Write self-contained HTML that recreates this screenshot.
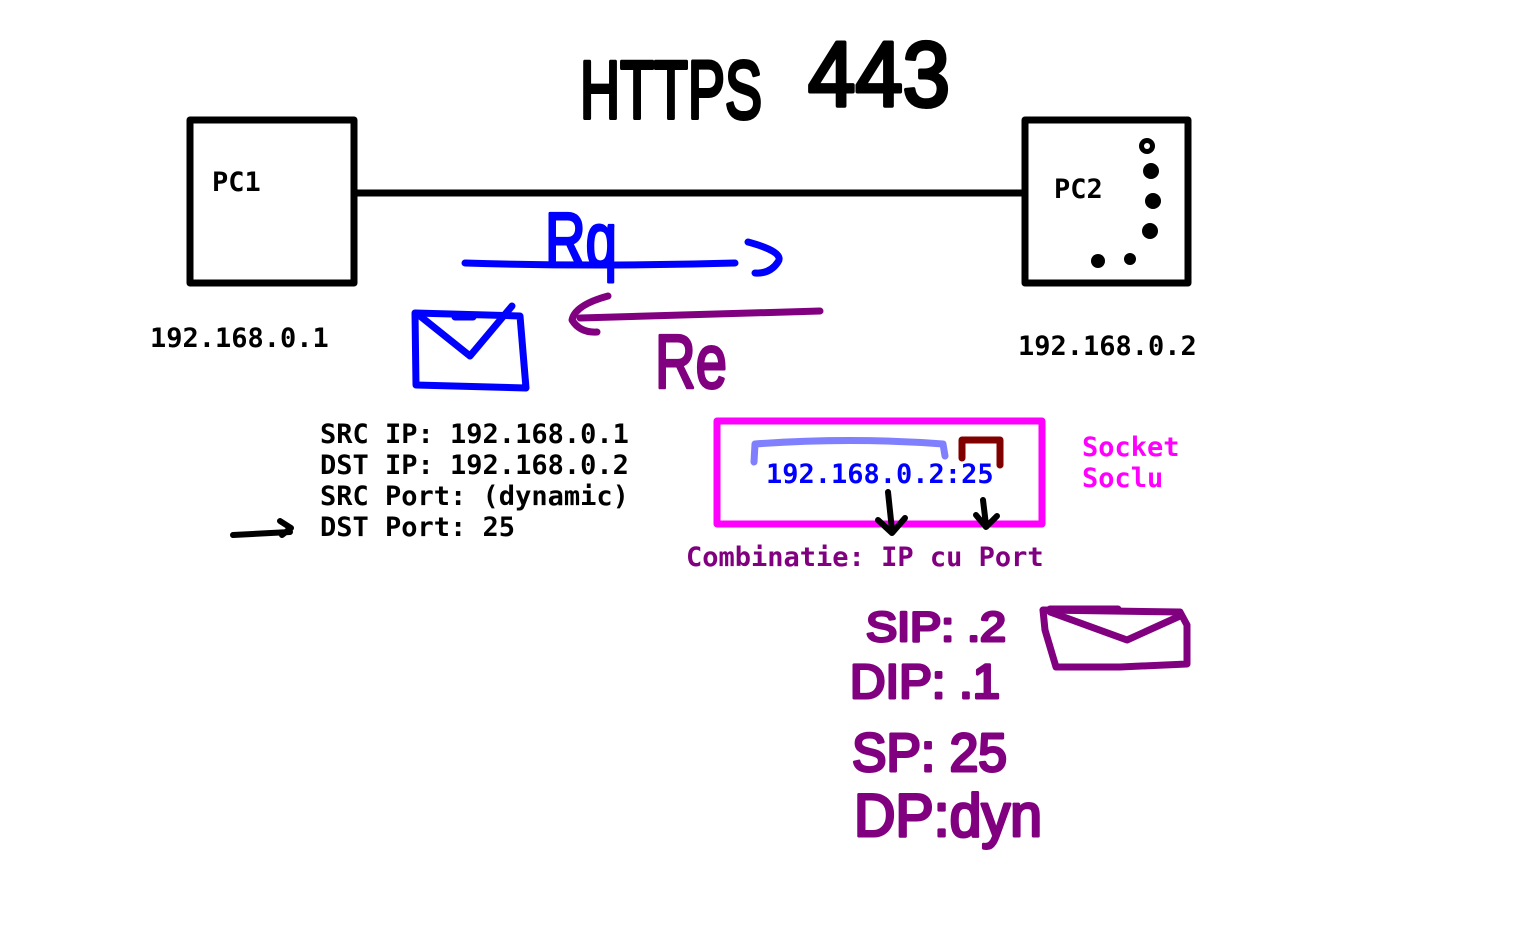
<!DOCTYPE html>
<html><head><meta charset="utf-8"><style>
html,body{margin:0;padding:0;background:#fff}
svg{display:block}
.m{font-family:"DejaVu Sans Mono","Liberation Mono",monospace;font-weight:bold;font-size:27px}
.h{font-family:"Liberation Sans",sans-serif;font-weight:normal;stroke-linejoin:round}
</style></head><body>
<svg width="1530" height="928" viewBox="0 0 1530 928" xmlns="http://www.w3.org/2000/svg">
<rect width="1530" height="928" fill="#fff"/>
<g fill="none" stroke-linecap="round" stroke-linejoin="round">
<rect x="190" y="120" width="164" height="163" stroke="#000" stroke-width="7"/>
<rect x="1025" y="120" width="163" height="163" stroke="#000" stroke-width="7"/>
<line x1="354" y1="193" x2="1025" y2="193" stroke="#000" stroke-width="7"/>
<path d="M465 263 Q600 267 735 263" stroke="#0000ff" stroke-width="7"/>
<path d="M748 242 Q785 252 778 262 Q770 274 755 273" stroke="#0000ff" stroke-width="7"/>
<path d="M820 311 Q700 314 580 318" stroke="#800080" stroke-width="7"/>
<path d="M608 296 Q575 305 572 320 Q580 333 597 332" stroke="#800080" stroke-width="7"/>
<path d="M415 313 L520 316 L526 388 L416 385 Z" stroke="#0000ff" stroke-width="7"/>
<path d="M420 316 L470 356 L512 306" stroke="#0000ff" stroke-width="7"/>
<path d="M455 317 L473 317" stroke="#0000ff" stroke-width="7"/>
<path d="M1043 610 L1180 612 L1187 625 L1187 664 L1120 667 L1056 667 L1045 630 Z" stroke="#800080" stroke-width="7"/>
<path d="M1050 612 L1127 640 L1180 616" stroke="#800080" stroke-width="7"/>
<path d="M1050 609 L1118 609" stroke="#800080" stroke-width="7"/>
<rect x="717" y="421" width="325" height="103" stroke="#ff00ff" stroke-width="7"/>
<path d="M754 462 L755 444 Q850 437 943 444 L945 456" stroke="#8080ff" stroke-width="7"/>
<path d="M962 458 L962 440 L1000 440 L1000 465" stroke="#800000" stroke-width="7"/>
<path d="M888 492 L892 530 M878 520 L892 533 L905 518" stroke="#000" stroke-width="6"/>
<path d="M983 500 L986 525 M976 515 L986 527 L997 516" stroke="#000" stroke-width="6"/>
<path d="M233 535 L290 532 M280 521 L291 528 L282 535" stroke="#000" stroke-width="6"/>
</g>
<g fill="#000">
<circle cx="1147" cy="146" r="8"/><circle cx="1151" cy="171" r="8"/>
<circle cx="1153" cy="201" r="8"/><circle cx="1150" cy="231" r="8"/>
<circle cx="1098" cy="261" r="7"/><circle cx="1130" cy="259" r="6"/>
</g>
<circle cx="1147" cy="146" r="3" fill="#fff"/>
<text class="m" x="212" y="191" fill="#000">PC1</text>
<text class="m" x="1054" y="198" fill="#000">PC2</text>
<text class="m" x="150" y="347" fill="#000">192.168.0.1</text>
<text class="m" x="1018" y="355" fill="#000">192.168.0.2</text>
<text class="m" x="320" y="443" fill="#000">SRC IP: 192.168.0.1</text>
<text class="m" x="320" y="474" fill="#000">DST IP: 192.168.0.2</text>
<text class="m" x="320" y="505" fill="#000">SRC Port: (dynamic)</text>
<text class="m" x="320" y="536" fill="#000">DST Port: 25</text>
<text class="m" x="766" y="483" fill="#0000ff">192.168.0.2:25</text>
<text class="m" x="686" y="566" fill="#800080">Combinatie: IP cu Port</text>
<text class="m" x="1082" y="456" fill="#ff00ff">Socket</text>
<text class="m" x="1082" y="487" fill="#ff00ff">Soclu</text>
<text class="h" x="580" y="118" font-size="82" fill="#000" stroke="#000" stroke-width="4" textLength="182" lengthAdjust="spacingAndGlyphs">HTTPS</text>
<text class="h" x="808" y="106" font-size="92" fill="#000" stroke="#000" stroke-width="4" textLength="142" lengthAdjust="spacingAndGlyphs">443</text>
<text class="h" x="545" y="266" font-size="76" fill="#0000ff" stroke="#0000ff" stroke-width="3" textLength="72" lengthAdjust="spacingAndGlyphs">Rq</text>
<text class="h" x="655" y="388" font-size="76" fill="#800080" stroke="#800080" stroke-width="3" textLength="72" lengthAdjust="spacingAndGlyphs">Re</text>
<g fill="#800080" stroke="#800080" stroke-width="3">
<text class="h" x="866" y="641" font-size="42" textLength="140" lengthAdjust="spacingAndGlyphs">SIP: .2</text>
<text class="h" x="850" y="698" font-size="48" textLength="150" lengthAdjust="spacingAndGlyphs">DIP: .1</text>
<text class="h" x="852" y="771" font-size="54" textLength="155" lengthAdjust="spacingAndGlyphs">SP: 25</text>
<text class="h" x="854" y="836" font-size="60" textLength="188" lengthAdjust="spacingAndGlyphs">DP:dyn</text>
</g>
</svg>
</body></html>
